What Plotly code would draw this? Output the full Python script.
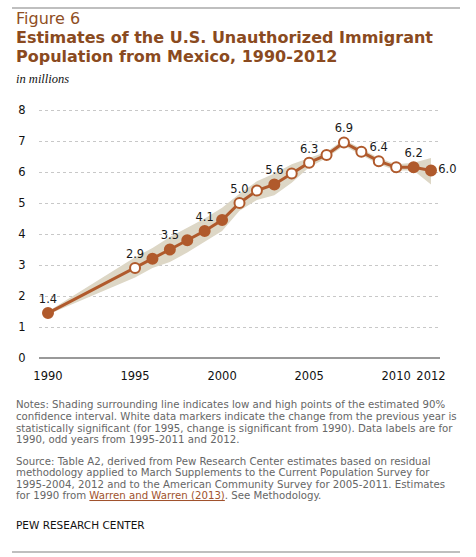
import plotly.graph_objects as go

years = [1990, 1995, 1996, 1997, 1998, 1999, 2000, 2001, 2002, 2003, 2004,
         2005, 2006, 2007, 2008, 2009, 2010, 2011, 2012]
values = [1.45, 2.9, 3.2, 3.5, 3.8, 4.1, 4.45, 5.0, 5.4, 5.6, 5.95,
          6.3, 6.55, 6.95, 6.65, 6.35, 6.15, 6.15, 6.05]
low = [1.4, 2.6, 2.9, 3.1, 3.4, 3.75, 4.1, 4.75, 5.1, 5.25, 5.65,
       6.15, 6.45, 6.85, 6.55, 6.25, 6.05, 6.05, 5.6]
high = [1.5, 3.25, 3.55, 3.9, 4.2, 4.5, 4.85, 5.3, 5.7, 5.95, 6.25,
        6.45, 6.65, 7.05, 6.75, 6.45, 6.25, 6.3, 6.45]
significant = [False, True, False, False, False, False, False, True, True, False, True,
               True, True, True, True, True, True, False, False]
labels = ["1.4", "2.9", "", "3.5", "", "4.1", "", "5.0", "", "5.6", "",
          "6.3", "", "6.9", "", "6.4", "", "6.2", "6.0"]
x_ticks = [1990, 1995, 2000, 2005, 2010, 2012]
y_ticks = [0, 1, 2, 3, 4, 5, 6, 7, 8]

LINE = "#B05A2C"
BAND = "#DDD7C6"
TITLE = "#8A4A20"

W, H = 476, 557
L, R, T, B = 39, 440, 100, 358


def px(x):
    return (x - L) / (R - L)


def py(y):
    return (B - y) / (B - T)


fig = go.Figure()
fig.add_trace(go.Scatter(x=years, y=low, mode="lines", line=dict(width=0, color=BAND),
                         hoverinfo="skip", showlegend=False))
fig.add_trace(go.Scatter(x=years, y=high, mode="lines", line=dict(width=0, color=BAND),
                         fill="tonexty", fillcolor=BAND, hoverinfo="skip", showlegend=False))
fig.add_trace(go.Scatter(
    x=years, y=values, mode="lines+markers+text",
    line=dict(color=LINE, width=3),
    marker=dict(size=10, color=["white" if s else LINE for s in significant],
                line=dict(color=LINE, width=2)),
    text=labels,
    textposition=["top center"] * (len(years) - 1) + ["middle right"],
    textfont=dict(family="DejaVu Sans", size=11.5, color="#1a1a1a"),
    cliponaxis=False, showlegend=False))

fig.update_xaxes(range=[1990 - 9 / 17.41, 2012 + 9 / 17.41], tickvals=x_ticks,
                 ticktext=[str(v) for v in x_ticks], showgrid=False, zeroline=False,
                 showline=False, ticks="outside", ticklen=7, tickcolor="rgba(0,0,0,0)",
                 tickfont=dict(family="DejaVu Sans", size=11.5, color="#111"))
fig.update_yaxes(range=[0, (B - T) / 31.0], tickvals=y_ticks, showgrid=True,
                 gridcolor="#c8c8c8", griddash="dot", gridwidth=1, zeroline=True,
                 zerolinecolor="#999", zerolinewidth=2, showline=False,
                 ticks="outside", ticklen=10, tickcolor="rgba(0,0,0,0)",
                 tickfont=dict(family="DejaVu Sans", size=11.5, color="#111"))

ann = []


def text(x, y, s, size, color, family="DejaVu Sans"):
    ann.append(dict(x=px(x), y=py(y), xref="paper", yref="paper", text=s, showarrow=False,
                    xanchor="left", yanchor="middle", align="left",
                    font=dict(family=family, size=size, color=color)))


text(14, 18.5, "Figure 6", 16, "#8F4E24")
text(14, 37, "<b>Estimates of the U.S. Unauthorized Immigrant</b>", 16, TITLE)
text(14, 56.5, "<b>Population from Mexico, 1990-2012</b>", 16, TITLE)
text(14, 79, "<i>in millions</i>", 12.5, "#111", "Liberation Serif")

notes = ["Notes: Shading surrounding line indicates low and high points of the estimated 90%",
         "confidence interval. White data markers indicate the change from the previous year is",
         "statistically significant (for 1995, change is significant from 1990). Data labels are for",
         "1990, odd years from 1995-2011 and 2012."]
for i, s in enumerate(notes):
    text(14, 404.8 + i * 11.6, s, 10.2, "#666")
source = ["Source: Table A2, derived from Pew Research Center estimates based on residual",
          "methodology applied to March Supplements to the Current Population Survey for",
          "1995-2004, 2012 and to the American Community Survey for 2005-2011. Estimates",
          "for 1990 from <span style='color:#A0522D'><u>Warren and Warren (2013)</u></span>. See Methodology."]
for i, s in enumerate(source):
    text(14, 461.5 + i * 11.3, s, 10.2, "#666")
text(14, 524.5, "PEW RESEARCH CENTER", 10.5, "#111")

shapes = [dict(type="line", xref="paper", yref="paper", x0=px(12), x1=px(460), y0=py(8), y1=py(8),
               line=dict(color="#aaa", width=1.5)),
          dict(type="line", xref="paper", yref="paper", x0=px(12), x1=px(460), y0=py(552), y1=py(552),
               line=dict(color="#aaa", width=1.5))]

fig.update_layout(width=W, height=H, margin=dict(l=L, r=W - R, t=T, b=H - B),
                  paper_bgcolor="white", plot_bgcolor="white",
                  annotations=ann, shapes=shapes)
fig.write_html("out.html")
